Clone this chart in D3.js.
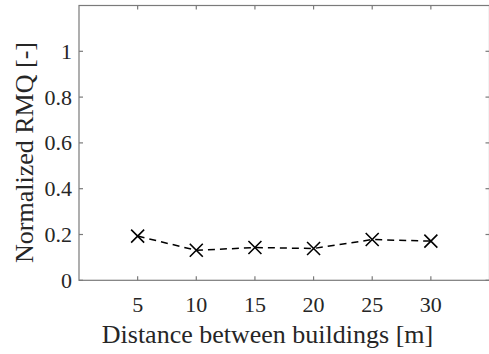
<!DOCTYPE html>
<html>
<head>
<meta charset="utf-8">
<script src="https://cdn.jsdelivr.net/npm/d3@7"></script>
<style>
  body { margin: 0; background: #fff; }
  svg { display: block; }
  text { font-family: "Liberation Serif", "Times New Roman", serif; fill: #262626; }
</style>
</head>
<body>
<script>
// data
var distances = [5, 10, 15, 20, 25, 30];
var rmq_values = [0.193, 0.131, 0.143, 0.139, 0.178, 0.171];
var x_ticks = [5, 10, 15, 20, 25, 30];
var y_ticks = [0, 0.2, 0.4, 0.6, 0.8, 1];

var width = 489, height = 354;
var plot_left = 79, plot_right = 489.5, plot_top = 5.5, plot_bottom = 280.3;
var axis_color = "#7a7a7a";

var svg = d3.select("body").append("svg")
    .attr("width", width)
    .attr("height", height);

var x_scale = d3.scaleLinear().domain([0, 35]).range([plot_left, plot_right]);
var y_scale = d3.scaleLinear().domain([0, 1.2]).range([plot_bottom, plot_top]);

// box
svg.append("rect")
    .attr("x", plot_left).attr("y", plot_top)
    .attr("width", plot_right - plot_left).attr("height", plot_bottom - plot_top)
    .attr("fill", "none")
    .attr("stroke", axis_color)
    .attr("stroke-width", 1.2);

// ticks, pointing inward (MATLAB style) on all four sides
var tick_len = 4;
svg.selectAll(".xtick-bot").data(x_ticks).enter().append("line")
    .attr("x1", d => x_scale(d)).attr("x2", d => x_scale(d))
    .attr("y1", plot_bottom).attr("y2", plot_bottom - tick_len)
    .attr("stroke", axis_color).attr("stroke-width", 1.2);
svg.selectAll(".xtick-top").data(x_ticks).enter().append("line")
    .attr("x1", d => x_scale(d)).attr("x2", d => x_scale(d))
    .attr("y1", plot_top).attr("y2", plot_top + tick_len)
    .attr("stroke", axis_color).attr("stroke-width", 1.2);
svg.selectAll(".ytick-left").data(y_ticks).enter().append("line")
    .attr("x1", plot_left).attr("x2", plot_left + tick_len)
    .attr("y1", d => y_scale(d)).attr("y2", d => y_scale(d))
    .attr("stroke", axis_color).attr("stroke-width", 1.2);
svg.selectAll(".ytick-right").data(y_ticks).enter().append("line")
    .attr("x1", plot_right).attr("x2", plot_right - tick_len)
    .attr("y1", d => y_scale(d)).attr("y2", d => y_scale(d))
    .attr("stroke", axis_color).attr("stroke-width", 1.2);

// tick labels
svg.selectAll(".xlabel").data(x_ticks).enter().append("text")
    .attr("x", d => x_scale(d))
    .attr("y", 311.5)
    .attr("text-anchor", "middle")
    .style("font-size", "22px")
    .text(d => d);
svg.selectAll(".ylabel").data(y_ticks).enter().append("text")
    .attr("x", 72)
    .attr("y", d => y_scale(d) + 7.5)
    .attr("text-anchor", "end")
    .style("font-size", "22px")
    .text(d => d);

// axis titles
svg.append("text")
    .attr("x", 267.5)
    .attr("y", 342.7)
    .attr("text-anchor", "middle")
    .style("font-size", "26px")
    .text("Distance between buildings [m]");
svg.append("text")
    .attr("transform", "translate(32.7,152.5) rotate(-90)")
    .attr("text-anchor", "middle")
    .style("font-size", "26px")
    .text("Normalized RMQ [-]");

// dashed line
var line_gen = d3.line()
    .x((d, i) => x_scale(distances[i]))
    .y(d => y_scale(d));
svg.append("path")
    .datum(rmq_values)
    .attr("d", line_gen)
    .attr("fill", "none")
    .attr("stroke", "#000")
    .attr("stroke-width", 1.5)
    .attr("stroke-dasharray", "7,5");

// x markers
var m = 6.5;
svg.selectAll(".marker").data(rmq_values).enter().append("path")
    .attr("d", (d, i) => {
        var cx = x_scale(distances[i]), cy = y_scale(d);
        return "M" + (cx - m) + "," + (cy - m) + "L" + (cx + m) + "," + (cy + m)
             + "M" + (cx - m) + "," + (cy + m) + "L" + (cx + m) + "," + (cy - m);
    })
    .attr("stroke", "#000")
    .attr("stroke-width", 1.6)
    .attr("fill", "none");
</script>
</body>
</html>
